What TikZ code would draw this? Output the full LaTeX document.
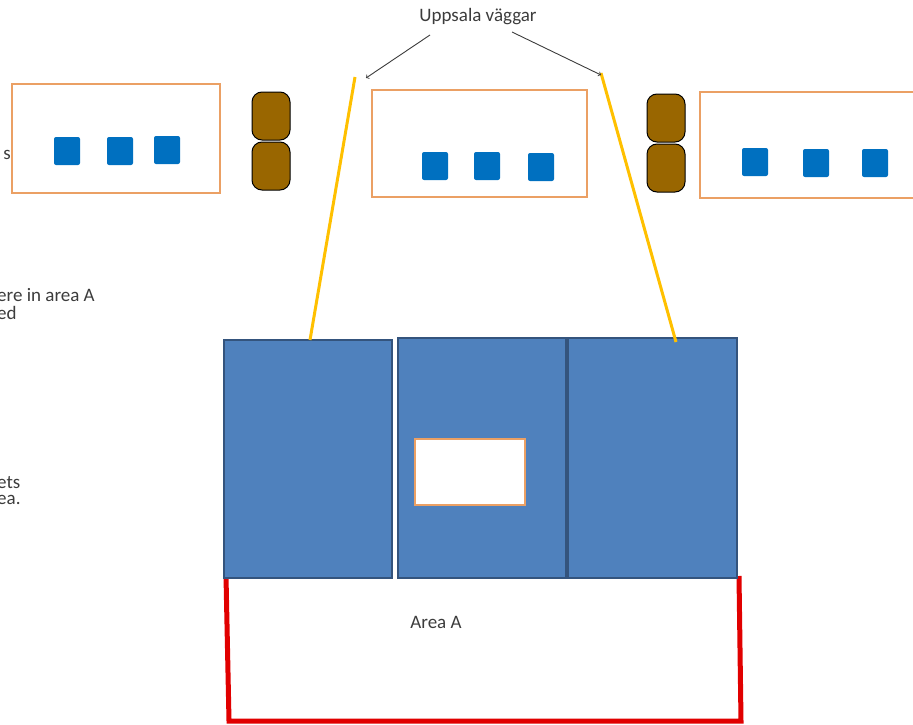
\documentclass[tikz,border=0pt]{standalone}
\usepackage{fontspec}
\setmainfont{Carlito}
\definecolor{deskorange}{RGB}{235,160,100}
\definecolor{seatblue}{RGB}{0,112,192}
\definecolor{wallblue}{RGB}{79,129,189}
\definecolor{walledge}{RGB}{52,84,125}
\definecolor{pillarbrown}{RGB}{153,102,0}
\definecolor{uppsalayellow}{RGB}{255,192,0}
\definecolor{areared}{RGB}{225,0,0}
\definecolor{textgray}{RGB}{60,60,60}
\tikzset{
  desk/.style={draw=deskorange, line width=2.2pt, fill=white},
  seat/.style={fill=seatblue, rounded corners=2pt, minimum width=26pt, minimum height=28pt, inner sep=0pt},
  pillar/.style={draw=black, fill=pillarbrown, line width=1pt, rounded corners=10pt, minimum width=38pt, minimum height=48pt, inner sep=0pt},
  wall/.style={draw=walledge, line width=1.2pt, fill=wallblue, inner sep=0pt},
  label/.style={text=textgray, font=\fontsize{19}{22}\selectfont, inner sep=0pt}
}
\begin{document}
\begin{tikzpicture}[x=1pt, y=-1pt]
	\useasboundingbox (0,0) rectangle (913,725);
	
	\node[desk, minimum width=208pt, minimum height=109pt] (deskL) at (116,138.5) {};
	\node[desk, minimum width=215pt, minimum height=107pt] (deskM) at (479.5,143.5) {};
	\node[desk, minimum width=226pt, minimum height=106pt] (deskR) at (813,145) {};
	
	\node[seat] (seatL1) at (67,151) {};
	\node[seat] (seatL2) at (120,151) {};
	\node[seat] (seatL3) at (167,150) {};
	\node[seat] (seatM1) at (435,166) {};
	\node[seat] (seatM2) at (487,166) {};
	\node[seat] (seatM3) at (541,167) {};
	\node[seat] (seatR1) at (755,162) {};
	\node[seat] (seatR2) at (816,163) {};
	\node[seat] (seatR3) at (875,163) {};
	
	\node[pillar] (pillarL1) at (271,116) {};
	\node[pillar] (pillarL2) at (271,166) {};
	\node[pillar] (pillarR1) at (666,118) {};
	\node[pillar] (pillarR2) at (666,168) {};
	
	\draw[areared, line width=5pt] (226,576) -- (229,721) -- (741,721) -- (739,576);
	
	\node[wall, minimum width=168pt, minimum height=238pt] (wallL) at (308,459) {};
	\node[wall, minimum width=168pt, minimum height=240pt] (wallM) at (482,458) {};
	\node[wall, minimum width=169pt, minimum height=240pt] (wallR) at (652.5,458) {};
	\node[desk, minimum width=110pt, minimum height=66pt] (opening) at (470,472) {};
	
	\coordinate (topL) at (355,77);
	\coordinate (footL) at (310,340);
	\coordinate (topR) at (601,73);
	\coordinate (footR) at (676,342);
	\draw[uppsalayellow, line width=3pt] (topL) -- (footL);
	\draw[uppsalayellow, line width=3pt] (topR) -- (footR);
	
	\node[label] (uppsala) at (478,17) {Uppsala väggar};
	\draw[->, textgray, line width=0.9pt] (430,35) -- ([xshift=11pt,yshift=-1pt]topL);
	\draw[->, textgray, line width=0.9pt] (512,32) -- ([yshift=-2pt]topR);
	
	\node[label] (areaA) at (436,622) {Area A};
	\node[label, anchor=east] (noteS) at (11,155) {s};
	\node[label, anchor=west] (noteA1) at (-3,295) {ere in area A};
	\node[label, anchor=west] (noteA2) at (-3,313) {ed};
	\node[label, anchor=west] (noteB1) at (-3,483) {ets};
	\node[label, anchor=west] (noteB2) at (-3,500) {ea.};
\end{tikzpicture}
\end{document}
